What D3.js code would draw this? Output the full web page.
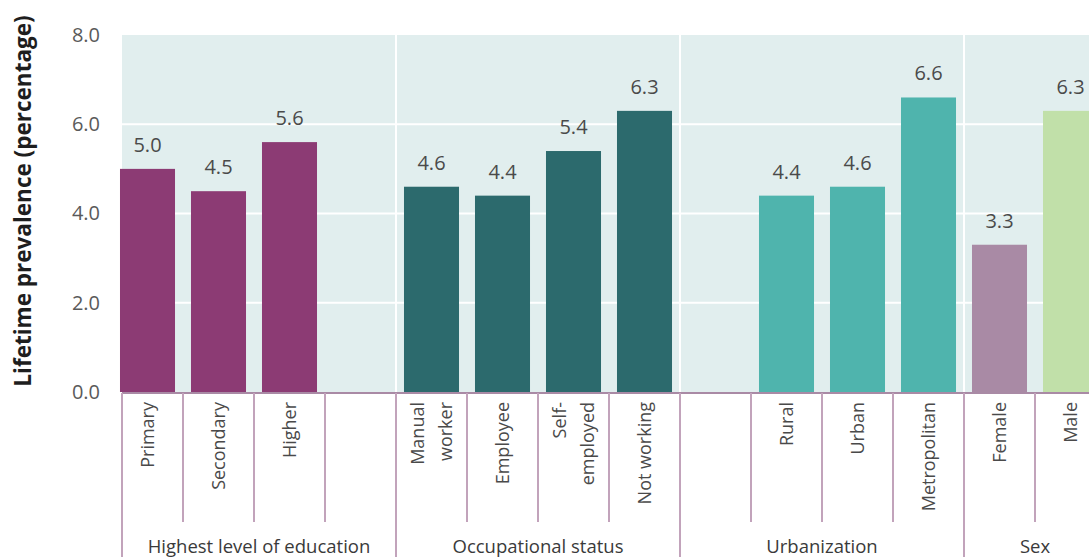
<!DOCTYPE html>
<html>
<head>
<meta charset="utf-8">
<script src="https://cdn.jsdelivr.net/npm/d3@7"></script>
<style>
  body { margin: 0; background: #fff; }
  svg { display: block; font-family: "Open Sans", "Noto Sans", sans-serif; }
</style>
</head>
<body>
<div id="chart"></div>
<script>
// data
var groups = ["Highest level of education", "Occupational status", "Urbanization", "Sex"];
var categories = ["Primary", "Secondary", "Higher", "gap1",
    "Manual worker", "Employee", "Self-employed", "Not working", "gap2",
    "Rural", "Urban", "Metropolitan", "Female", "Male"];
var tickLabels = [["Primary"], ["Secondary"], ["Higher"], [],
    ["Manual", "worker"], ["Employee"], ["Self-", "employed"], ["Not working"], [],
    ["Rural"], ["Urban"], ["Metropolitan"], ["Female"], ["Male"]];
var values = [5.0, 4.5, 5.6, null, 4.6, 4.4, 5.4, 6.3, null, 4.4, 4.6, 6.6, 3.3, 6.3];
var groupIndex = [0, 0, 0, 0, 1, 1, 1, 1, 2, 2, 2, 2, 3, 3];
var yTicks = [0, 2, 4, 6, 8];

var barColors = {
    "Primary": "#8c3b74", "Secondary": "#8c3b74", "Higher": "#8c3b74",
    "Manual worker": "#2c6a6d", "Employee": "#2c6a6d", "Self-employed": "#2c6a6d", "Not working": "#2c6a6d",
    "Rural": "#4fb4ad", "Urban": "#4fb4ad", "Metropolitan": "#4fb4ad",
    "Female": "#a98aa5", "Male": "#c1e0a9"
};

var svgWidth = 1089;
var svgHeight = 557;
var plotLeft = 122;
var plotTop = 35;
var plotBottom = 392;
var lineColor = "#c2a3bb";

var svg = d3.select("#chart")
    .append("svg")
    .attr("width", svgWidth)
    .attr("height", svgHeight);

var x = d3.scaleBand()
    .domain(categories)
    .range([112, 112 + 71 * categories.length])
    .paddingInner(0.225)
    .paddingOuter(0.1125);

var y = d3.scaleLinear()
    .domain([0, 8])
    .range([plotBottom, plotTop]);

// slot boundary to the right of a category
function slotEnd(cat) {
    return x(cat) + x.bandwidth() + (x.step() - x.bandwidth()) / 2;
}
function slotStart(cat) {
    return x(cat) - (x.step() - x.bandwidth()) / 2;
}

// plot background
svg.append("rect")
    .attr("x", plotLeft)
    .attr("y", plotTop)
    .attr("width", svgWidth - plotLeft)
    .attr("height", plotBottom - plotTop)
    .attr("fill", "#e1eeee");

// horizontal gridlines
svg.append("g")
    .selectAll("line")
    .data(yTicks.filter(d => d > 0 && d < 8))
    .enter()
    .append("line")
    .attr("x1", plotLeft)
    .attr("x2", svgWidth)
    .attr("y1", d => y(d))
    .attr("y2", d => y(d))
    .attr("stroke", "#fff")
    .attr("stroke-width", 2);

// group boundaries (last category of each group except the final one)
var groupEnds = categories.filter((c, i) => i < categories.length - 1 && groupIndex[i] != groupIndex[i + 1]);

svg.append("g")
    .selectAll("line")
    .data(groupEnds)
    .enter()
    .append("line")
    .attr("x1", d => slotEnd(d))
    .attr("x2", d => slotEnd(d))
    .attr("y1", plotTop)
    .attr("y2", plotBottom)
    .attr("stroke", "#fff")
    .attr("stroke-width", 2);

// bars
var barData = categories.map((c, i) => ({ cat: c, value: values[i] })).filter(d => d.value != null);

svg.append("g")
    .selectAll("rect")
    .data(barData)
    .enter()
    .append("rect")
    .attr("x", d => x(d.cat))
    .attr("y", d => y(d.value))
    .attr("width", x.bandwidth())
    .attr("height", d => y(0) - y(d.value))
    .attr("fill", d => barColors[d.cat]);

// value labels
svg.append("g")
    .selectAll("text")
    .data(barData)
    .enter()
    .append("text")
    .attr("x", d => x(d.cat) + x.bandwidth() / 2)
    .attr("y", d => y(d.value) - 17)
    .attr("text-anchor", "middle")
    .attr("font-size", 20)
    .attr("fill", "#4a4a4a")
    .text(d => d.value.toFixed(1));

// y axis labels
var leftAxis = d3.axisLeft(y)
    .tickValues(yTicks)
    .tickFormat(d3.format(".1f"))
    .tickSize(0)
    .tickPadding(22);

var yAxis = svg.append("g")
    .attr("transform", `translate(${plotLeft}, 0)`)
    .call(leftAxis);
yAxis.select(".domain").remove();
yAxis.selectAll("text")
    .attr("font-size", 20)
    .attr("font-family", "\"Open Sans\", sans-serif")
    .attr("fill", "#5a5a5a");

// y title
svg.append("text")
    .attr("transform", "translate(31, 201) rotate(-90)")
    .attr("text-anchor", "middle")
    .attr("font-size", 22.5)
    .attr("font-weight", "bold")
    .attr("fill", "#1e1e1e")
    .text("Lifetime prevalence (percentage)");

// category axis line
svg.append("line")
    .attr("x1", plotLeft)
    .attr("x2", svgWidth)
    .attr("y1", plotBottom + 1)
    .attr("y2", plotBottom + 1)
    .attr("stroke", "#a98aa5")
    .attr("stroke-width", 2);

// inner dividers between categories
var innerEnds = categories.filter((c, i) => i < categories.length - 1 && groupIndex[i] == groupIndex[i + 1]);
svg.append("g")
    .selectAll("line")
    .data(innerEnds)
    .enter()
    .append("line")
    .attr("x1", d => slotEnd(d))
    .attr("x2", d => slotEnd(d))
    .attr("y1", plotBottom + 1)
    .attr("y2", 522)
    .attr("stroke", lineColor)
    .attr("stroke-width", 2);

// group dividers, full height
svg.append("g")
    .selectAll("line")
    .data([plotLeft].concat(groupEnds.map(slotEnd)))
    .enter()
    .append("line")
    .attr("x1", d => d)
    .attr("x2", d => d)
    .attr("y1", plotBottom + 1)
    .attr("y2", svgHeight)
    .attr("stroke", lineColor)
    .attr("stroke-width", 2);

// category tick labels, rotated
var tickGroup = svg.append("g")
    .selectAll("g")
    .data(categories.map((c, i) => ({ cat: c, lines: tickLabels[i] })))
    .enter()
    .append("g")
    .attr("transform", d => `translate(${x(d.cat) + x.bandwidth() / 2}, 402) rotate(-90)`);

tickGroup.each(function(d) {
    var n = d.lines.length;
    d3.select(this)
        .selectAll("text")
        .data(d.lines)
        .enter()
        .append("text")
        .attr("x", 0)
        .attr("y", (t, j) => (j - (n - 1) / 2) * 28 + 6)
        .attr("text-anchor", "end")
        .attr("font-size", 18)
        .attr("fill", "#4a4a4a")
        .text(t => t);
});

// group labels
svg.append("g")
    .selectAll("text")
    .data(groups)
    .enter()
    .append("text")
    .attr("x", (g, gi) => {
        var cats = categories.filter((c, i) => groupIndex[i] == gi);
        var left = gi == 0 ? plotLeft : slotStart(cats[0]);
        var right = slotEnd(cats[cats.length - 1]);
        return (left + right) / 2;
    })
    .attr("y", 553)
    .attr("text-anchor", "middle")
    .attr("font-size", 18.5)
    .attr("fill", "#3a3a3a")
    .text(g => g);
</script>
</body>
</html>
